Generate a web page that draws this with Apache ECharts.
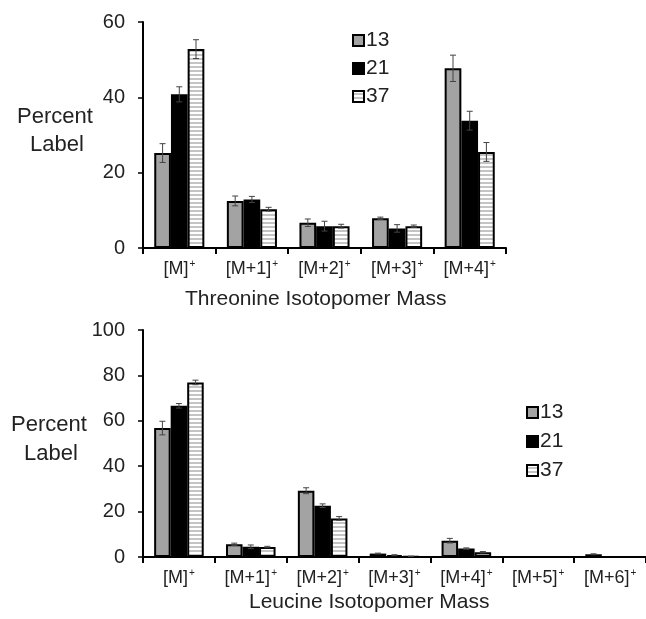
<!DOCTYPE html>
<html>
<head>
<meta charset="utf-8">
<script src="https://cdn.jsdelivr.net/npm/echarts@6/dist/echarts.min.js"></script>
<style>
html,body{margin:0;padding:0;background:#fff;}
#chart{width:646px;height:619px;}
</style>
</head>
<body>
<div id="chart"></div>
<script>
// ---- Data ----
const seriesNames = ['13', '21', '37'];

const thrCategories = ['[M]', '[M+1]', '[M+2]', '[M+3]', '[M+4]'];
const thr13 = [25.2, 12.5, 6.7, 7.9, 47.7];
const thr21 = [40.8, 12.9, 5.8, 5.2, 33.8];
const thr37 = [52.8, 10.3, 5.8, 5.8, 25.5];
const thrErr13 = [2.5, 1.3, 1.0, 0.3, 3.5];
const thrErr21 = [2.0, 0.8, 1.3, 1.0, 2.5];
const thrErr37 = [2.5, 0.5, 0.5, 0.3, 2.5];

const leuCategories = ['[M]', '[M+1]', '[M+2]', '[M+3]', '[M+4]', '[M+5]', '[M+6]'];
const leu13 = [56.8, 5.6, 29.2, 1.5, 7.2, 0, 1.2];
const leu21 = [66.6, 4.5, 22.6, 0.8, 3.7, 0, 0];
const leu37 = [76.9, 4.4, 17.0, 0.3, 2.1, 0, 0];
const leuErr13 = [3.0, 0.5, 1.3, 0.2, 1.0, 0, 0.2];
const leuErr21 = [1.0, 0.8, 0.8, 0.2, 0.3, 0, 0];
const leuErr37 = [1.0, 0.3, 0.8, 0.1, 0.3, 0, 0];

const thrTicks = [0, 20, 40, 60];
const leuTicks = [0, 20, 40, 60, 80, 100];

// ---- Styles ----
const FONT = '"Liberation Sans", Arial, sans-serif';
const GAP = 0.31;

function stripePattern() {
  const c = document.createElement('canvas');
  c.width = 4; c.height = 4;
  const g = c.getContext('2d');
  g.fillStyle = '#ffffff'; g.fillRect(0, 0, 4, 4);
  g.fillStyle = '#c4c4c4'; g.fillRect(0, 2, 4, 2);
  return c;
}
const stripes = { image: stripePattern(), repeat: 'repeat' };
const fills = ['#a3a3a3', '#000000', stripes];

function errorSeries(name, idx, values, errs, axisIdx) {
  return {
    type: 'custom',
    name: name + '_err',
    xAxisIndex: axisIdx, yAxisIndex: axisIdx,
    z: 10,
    silent: true,
    data: values.map((v, i) => [i, v, errs[i]]),
    renderItem: function (params, api) {
      const xi = api.value(0), v = api.value(1), e = api.value(2);
      if (!(e > 0)) return null;
      const band = api.size([1, 0])[0];
      const bw = band * (1 - GAP) / 3;
      const cx = api.coord([xi, v])[0] + (idx - 1) * bw;
      const yT = api.coord([xi, v + e])[1];
      const yB = api.coord([xi, Math.max(v - e, 0)])[1];
      const cap = 3;
      const st = { stroke: '#444', lineWidth: 1 };
      return {
        type: 'group',
        children: [
          { type: 'line', shape: { x1: cx, y1: yT, x2: cx, y2: yB }, style: st },
          { type: 'line', shape: { x1: cx - cap, y1: yT, x2: cx + cap, y2: yT }, style: st },
          { type: 'line', shape: { x1: cx - cap, y1: yB, x2: cx + cap, y2: yB }, style: st }
        ]
      };
    }
  };
}

function barSeries(name, idx, values, axisIdx) {
  return {
    type: 'bar',
    name: name,
    xAxisIndex: axisIdx, yAxisIndex: axisIdx,
    data: values,
    barGap: '0%',
    barCategoryGap: (GAP * 100) + '%',
    itemStyle: { color: fills[idx], borderColor: '#000', borderWidth: 2 },
    emphasis: { disabled: true }
  };
}

function catAxis(cats, gridIdx) {
  return {
    type: 'category',
    gridIndex: gridIdx,
    data: cats,
    axisLine: { lineStyle: { color: '#000', width: 2 } },
    axisTick: { show: true, length: 6, interval: 0, lineStyle: { color: '#000', width: 2 } },
    axisLabel: {
      interval: 0, margin: 11,
      formatter: v => '{b|' + v + '}{s|+}',
      rich: {
        b: { fontSize: 18, fontFamily: FONT, color: '#222', lineHeight: 20 },
        s: { fontSize: 10, fontFamily: FONT, color: '#222', lineHeight: 20, verticalAlign: 'top', padding: [0, 0, 8, 1] }
      }
    }
  };
}

function valAxis(ticks, gridIdx) {
  return {
    type: 'value',
    gridIndex: gridIdx,
    min: ticks[0], max: ticks[ticks.length - 1],
    interval: ticks[1] - ticks[0],
    splitLine: { show: false },
    axisLine: { show: true, lineStyle: { color: '#000', width: 2 } },
    axisTick: { show: true, length: 5, lineStyle: { color: '#000', width: 1.5 } },
    axisLabel: { fontSize: 20, fontFamily: FONT, color: '#222', margin: 18 }
  };
}

const chart = echarts.init(document.getElementById('chart'), null, { renderer: 'canvas' });

const legendText = { fontSize: 21, fontFamily: FONT, color: '#222', padding: [0, 0, 0, -3] };

const option = {
  animation: false,
  backgroundColor: '#fff',
  grid: [
    { left: 143, top: 22, width: 363, height: 226 },
    { left: 143, top: 330, width: 507, height: 227 }
  ],
  xAxis: [catAxis(thrCategories, 0), catAxis(leuCategories, 1)],
  yAxis: [valAxis(thrTicks, 0), valAxis(leuTicks, 1)],
  legend: [
    {
      data: seriesNames, orient: 'vertical', left: 347, top: 25,
      itemWidth: 11, itemHeight: 11, itemGap: 7, icon: 'rect',
      textStyle: legendText, selectedMode: false
    },
    {
      data: seriesNames, orient: 'vertical', left: 521, top: 397,
      itemWidth: 11, itemHeight: 11, itemGap: 8, icon: 'rect',
      textStyle: legendText, selectedMode: false
    }
  ],
  graphic: [
    { type: 'text', left: 17, top: 106, style: { text: 'Percent', fontSize: 22, fontFamily: FONT, fill: '#222' } },
    { type: 'text', left: 30, top: 134, style: { text: 'Label', fontSize: 22, fontFamily: FONT, fill: '#222' } },
    { type: 'text', left: 11, top: 414, style: { text: 'Percent', fontSize: 22, fontFamily: FONT, fill: '#222' } },
    { type: 'text', left: 24, top: 443, style: { text: 'Label', fontSize: 22, fontFamily: FONT, fill: '#222' } },
    { type: 'text', left: 185, top: 289, style: { text: 'Threonine Isotopomer Mass', fontSize: 21, fontFamily: FONT, fill: '#222' } },
    { type: 'text', left: 249, top: 592, style: { text: 'Leucine Isotopomer Mass', fontSize: 21, fontFamily: FONT, fill: '#222' } }
  ],
  series: [
    barSeries('13', 0, thr13, 0),
    barSeries('21', 1, thr21, 0),
    barSeries('37', 2, thr37, 0),
    barSeries('13', 0, leu13, 1),
    barSeries('21', 1, leu21, 1),
    barSeries('37', 2, leu37, 1),
    errorSeries('13', 0, thr13, thrErr13, 0),
    errorSeries('21', 1, thr21, thrErr21, 0),
    errorSeries('37', 2, thr37, thrErr37, 0),
    errorSeries('13', 0, leu13, leuErr13, 1),
    errorSeries('21', 1, leu21, leuErr21, 1),
    errorSeries('37', 2, leu37, leuErr37, 1)
  ]
};
chart.setOption(option);
</script>
</body>
</html>
